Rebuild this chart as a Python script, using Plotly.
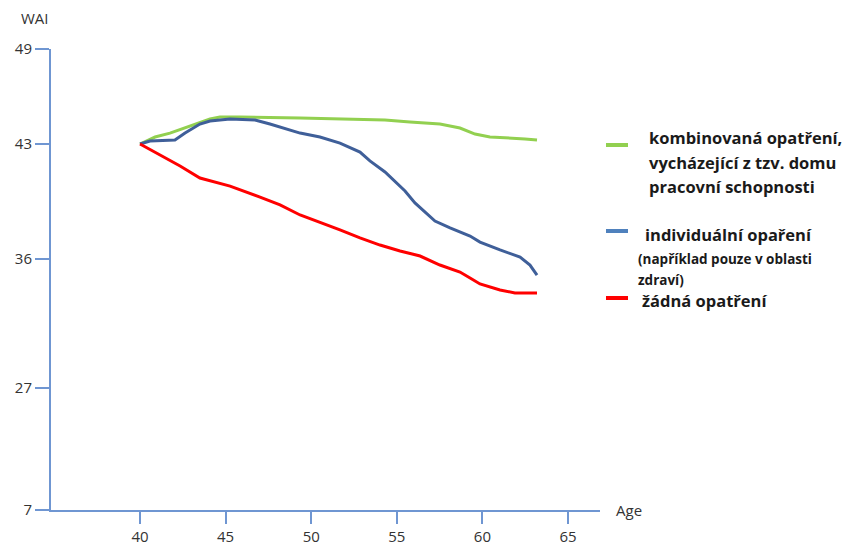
import numpy as np
import plotly.graph_objects as go

# ---- data ----
AGE_GREEN = [40.0, 40.88, 41.75, 42.92, 44.09, 44.67, 45.84, 49.35, 52.27, 54.31, 55.77, 57.52, 58.69, 59.57, 60.44, 61.61, 62.49, 63.19]
WAI_GREEN = [43.0, 43.44, 43.69, 44.14, 44.58, 44.71, 44.71, 44.64, 44.58, 44.52, 44.39, 44.26, 44.01, 43.63, 43.44, 43.38, 43.32, 43.25]

AGE_BLUE = [40.0, 40.58, 42.04, 42.63, 43.50, 44.09, 45.26, 46.72, 47.59, 49.35, 50.51, 51.68, 52.85, 53.43, 54.31, 54.89, 55.48, 56.06, 56.65, 57.23, 58.11, 59.28, 59.86, 61.03, 62.20, 62.78, 63.19]
WAI_BLUE = [43.0, 43.19, 43.25, 43.69, 44.26, 44.45, 44.58, 44.52, 44.26, 43.69, 43.44, 43.06, 42.51, 41.97, 41.30, 40.75, 40.14, 39.41, 38.86, 38.31, 37.89, 37.40, 37.03, 36.55, 36.12, 35.58, 34.88]

AGE_RED = [40.0, 41.17, 42.34, 43.50, 45.26, 47.01, 48.18, 49.35, 50.51, 51.68, 52.85, 54.02, 55.19, 56.36, 57.52, 58.69, 59.28, 59.86, 61.03, 61.90, 63.19]
WAI_RED = [43.0, 42.33, 41.66, 40.93, 40.44, 39.77, 39.29, 38.68, 38.25, 37.77, 37.28, 36.85, 36.49, 36.18, 35.58, 35.09, 34.67, 34.26, 33.84, 33.63, 33.63]

X_TICKS = [40, 45, 50, 55, 60, 65]
Y_TICKS = [7, 27, 36, 43, 49]            # labels of the (non-linear) WAI axis
Y_TICK_SCALE = [0, 122, 251, 366, 461]   # where each label sits on the broken axis

NAMES = ["kombinovaná opatření, vycházející z tzv. domu pracovní schopnosti",
         "individuální opaření (například pouze v oblasti zdraví)",
         "žádná opatření"]
COLORS = ["#92d050", "#3f5f99", "#ff0000"]

def scale_y(v):
    return np.interp(v, Y_TICKS, Y_TICK_SCALE)

AXIS_COLOR = "#6f96d2"
TEXT_COLOR = "#333333"
FONT = "Open Sans"

fig = go.Figure()
for ages, vals, name, col in [(AGE_GREEN, WAI_GREEN, NAMES[0], COLORS[0]),
                              (AGE_BLUE, WAI_BLUE, NAMES[1], COLORS[1]),
                              (AGE_RED, WAI_RED, NAMES[2], COLORS[2])]:
    fig.add_trace(go.Scatter(x=ages, y=scale_y(vals), mode="lines", name=name,
                             line=dict(color=col, width=3), customdata=vals,
                             hovertemplate="%{x:.1f}: %{customdata:.1f}<extra></extra>"))

L, R, T, B = 51, 248, 49, 41
W, H = 848, 551
pw, ph = W - L - R, H - T - B

def px(x):
    return (x - L) / pw

def py(y):
    return (H - B - y) / ph

fig.update_layout(
    width=W, height=H, margin=dict(l=L, r=R, t=T, b=B, pad=0, autoexpand=False),
    plot_bgcolor="white", paper_bgcolor="white", showlegend=False,
    font=dict(family=FONT, color=TEXT_COLOR, size=15),
    xaxis=dict(range=[34.8, 66.87], tickvals=X_TICKS, showgrid=False, zeroline=False,
               showline=True, linecolor=AXIS_COLOR, linewidth=2, automargin=False,
               ticks="outside", ticklen=12, tickcolor=AXIS_COLOR, tickwidth=2,
               tickfont=dict(size=15, color=TEXT_COLOR)),
    yaxis=dict(range=[0, 461], tickvals=Y_TICK_SCALE, ticktext=[str(t) for t in Y_TICKS],
               showgrid=False, zeroline=False, automargin=False,
               showline=True, linecolor=AXIS_COLOR, linewidth=2,
               ticks="outside", ticklen=14, tickcolor=AXIS_COLOR, tickwidth=2,
               tickfont=dict(size=15, color=TEXT_COLOR)),
)

# axis titles
fig.add_annotation(x=px(19), y=py(18), xref="paper", yref="paper", text="WAI",
                   showarrow=False, xanchor="left", yanchor="middle",
                   font=dict(size=15, color=TEXT_COLOR))
fig.add_annotation(x=px(614), y=py(510), xref="paper", yref="paper", text="Age",
                   showarrow=False, xanchor="left", yanchor="middle",
                   font=dict(size=15, color=TEXT_COLOR))

# custom legend
swatches = [(145, COLORS[0]), (231, "#4f81bd"), (298, COLORS[2])]
for ysw, col in swatches:
    fig.add_shape(type="line", xref="paper", yref="paper",
                  x0=px(606), x1=px(628), y0=py(ysw), y1=py(ysw),
                  line=dict(color=col, width=4))

legend_lines = [
    (647, 137, "<b>kombinovaná opatření,</b>", 16.5),
    (647, 162, "<b>vycházející z tzv. domu</b>", 16.5),
    (647, 186, "<b>pracovní schopnosti</b>", 16.5),
    (643, 234, "<b>individuální opaření</b>", 16.5),
    (636, 259, "<b>(například pouze v oblasti</b>", 13.5),
    (636, 280, "<b>zdraví)</b>", 13.5),
    (640, 300, "<b>žádná opatření</b>", 16.5),
]
for x0, y0, txt, sz in legend_lines:
    fig.add_annotation(x=px(x0), y=py(y0), xref="paper", yref="paper", text=txt,
                       showarrow=False, xanchor="left", yanchor="middle",
                       font=dict(size=sz, color="#1a1a1a", family=FONT))

fig.write_html("out.html", config={"displayModeBar": False},
               post_script="document.body.style.margin='0';document.body.style.overflow='hidden';")
